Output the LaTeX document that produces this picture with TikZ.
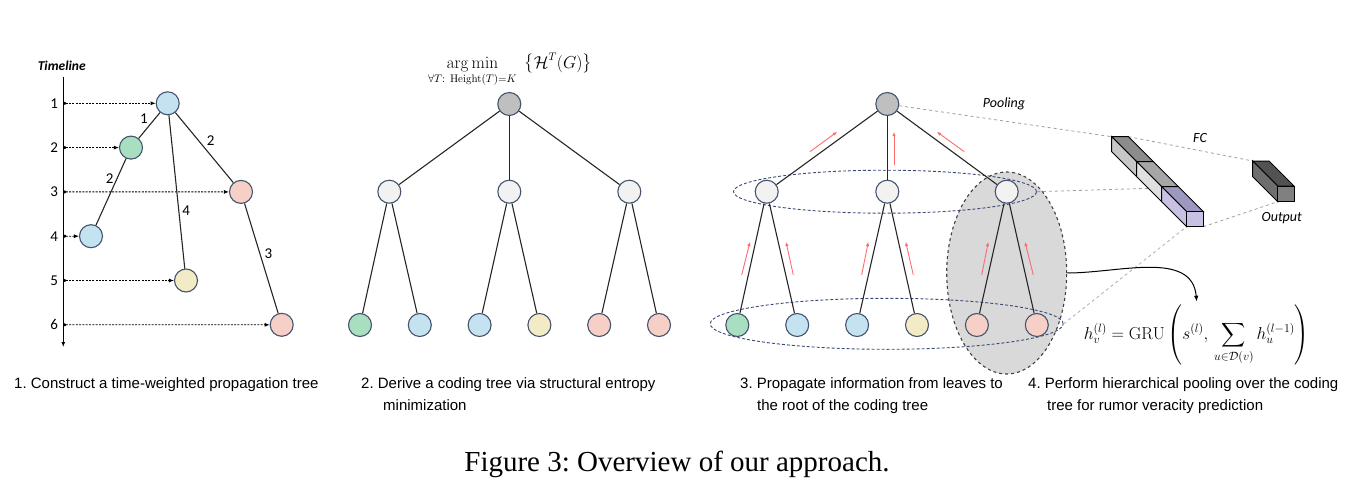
\documentclass[tikz,border=0pt]{standalone}
\usepackage{amsmath, amssymb}
\usepackage[no-math]{fontspec}
\newfontfamily\calfont{Carlito}
\newfontfamily\capfont{Liberation Sans}
\newfontfamily\figfont{Liberation Serif}
\usetikzlibrary{arrows.meta, calc, shapes.geometric}

\definecolor{nodeline}{HTML}{44546C}
\definecolor{cgreen}{HTML}{A8DFC0}
\definecolor{cblue}{HTML}{C5E2F1}
\definecolor{cyellow}{HTML}{F2EBC5}
\definecolor{cpink}{HTML}{F6CFC6}
\definecolor{croot}{HTML}{BFBFBF}
\definecolor{cmid}{HTML}{F2F2F2}
\definecolor{lvlblue}{HTML}{3A4A78}
\definecolor{flowred}{HTML}{FF6B6B}

\tikzset{
  vert/.style = {circle, draw = nodeline, line width = 1.1pt, minimum size = 23pt, inner sep = 0pt},
  edge/.style = {draw = black!85, line width = 1.1pt},
  timearrow/.style = {dash pattern = on 2pt off 1.3pt, line width = 0.85pt, {Circle[length = 3pt]}-{Latex[length = 5pt, width = 4pt]}},
  upflow/.style = {draw = flowred, line width = 0.9pt, -{Latex[length = 4.5pt, width = 3.5pt]}},
  pool/.style = {dashed, draw = gray!75, line width = 0.8pt},
  lvl/.style = {ellipse, draw = lvlblue, densely dashed, line width = 0.9pt, inner sep = 0pt},
  lbl/.style = {font = \calfont\fontsize{15}{17}\selectfont, inner sep = 1pt},
  tag/.style = {font = \calfont\itshape\fontsize{14}{16}\selectfont},
  captext/.style = {anchor = base west, font = \capfont\fontsize{15}{18}\selectfont\frenchspacing, inner sep = 0pt},
}

\begin{document}
\begin{tikzpicture}[x = 1pt, y = -1pt]
\useasboundingbox (0,0) rectangle (1360,487);

%% 1. propagation tree with timeline
\node[tag, font = \calfont\bfseries\itshape\fontsize{13.5}{15}\selectfont] (tl) at (61.7,65.7) {Timeline};
\coordinate (axtop) at (63.3,77);
\coordinate (axbot) at (63.3,347);
\draw[line width = 1.1pt, -{Latex[length = 5pt, width = 4pt]}] (axtop)--(axbot);
\foreach \i in {1,...,6}{
  \coordinate (t\i) at (63.3,{103.3+44.3*(\i-1)});
  \node[lbl] at (54.3,{103.3+44.3*(\i-1)}) {\i};
}
\node[vert, fill = cblue] (p1) at (167.7,103.3) {};
\node[vert, fill = cgreen] (p2) at (131,147.6) {};
\node[vert, fill = cpink] (p3) at (241,191.9) {};
\node[vert, fill = cblue] (p4) at (91,236.2) {};
\node[vert, fill = cyellow] (p5) at (186,280.5) {};
\node[vert, fill = cpink] (p6) at (281.7,324.8) {};
\foreach \i in {1,...,6}
  \draw[timearrow] (t\i)--(p\i);
\draw[edge] (p1)--(p2) node[lbl, midway, above left = 0pt] {1};
\draw[edge] (p1)--(p3) node[lbl, midway, above right = 1pt] {2};
\draw[edge] (p2)--(p4) node[lbl, pos = 0.3, left = 2pt] {2};
\draw[edge] (p1)--(p5) node[lbl, pos = 0.62, right = 2pt] {4};
\draw[edge] (p3)--(p6) node[lbl, pos = 0.46, right = 3pt] {3};

%% 2. coding tree
\node (obj) at (510,70) {\fontsize{16}{19}\selectfont
  $\displaystyle\operatorname*{arg\,min}_{\forall T:\ \mathrm{Height}(T)=K}\ \left\{\mathcal{H}^T(G)\right\}$};
\node[vert, fill = croot] (r2) at (509.3,104) {};
\foreach \x [count = \j] in {389.3, 509.3, 629.3}
  \node[vert, fill = cmid] (m2\j) at (\x,191.7) {};
\foreach \c [count = \i] in {cgreen, cblue, cblue, cyellow, cpink, cpink}
  \node[vert, fill = \c] (b2\i) at ({300.2+59.8*\i},325) {};
\foreach \j in {1,2,3}{
  \draw[edge] (r2)--(m2\j);
  \pgfmathtruncatemacro{\a}{2*\j-1}
  \pgfmathtruncatemacro{\b}{2*\j}
  \draw[edge] (m2\j)--(b2\a);
  \draw[edge] (m2\j)--(b2\b);
}

%% 3. message passing, 4. pooling
\node[ellipse, draw = black!75, dashed, line width = 1.1pt, fill = black!15,
  minimum width = 120pt, minimum height = 202pt, inner sep = 0pt] (grp) at (1006.7,273) {};
\node[lvl, minimum width = 303pt, minimum height = 43pt] (lvl1) at (885,191.7) {};
\node[lvl, minimum width = 353pt, minimum height = 51pt] (lvl0) at (886.7,323.8) {};
\node[vert, fill = croot] (r3) at (887.3,104) {};
\foreach \x [count = \j] in {766.7, 887.3, 1006.7}
  \node[vert, fill = cmid] (m3\j) at (\x,191.7) {};
\foreach \c [count = \i] in {cgreen, cblue, cblue, cyellow, cpink, cpink}
  \node[vert, fill = \c] (b3\i) at ({677.4+59.9*\i},325) {};
\foreach \j in {1,2,3}{
  \draw[edge] (r3)--(m3\j);
  \pgfmathtruncatemacro{\a}{2*\j-1}
  \pgfmathtruncatemacro{\b}{2*\j}
  \draw[edge] (m3\j)--(b3\a);
  \draw[edge] (m3\j)--(b3\b);
}
% flow towards the root
\draw[upflow] (810,151.7)--(837.3,131.7);
\draw[upflow] (894,165)--(894,131.7);
\draw[upflow] (964.3,151.7)--(936.7,131.7);
\draw[upflow] (741.7,275)--(750,241.7);
\draw[upflow] (793.3,275)--(786,241.7);
\draw[upflow] (861.7,275)--(868.3,241.7);
\draw[upflow] (913.3,275)--(905.7,241.7);
\draw[upflow] (981.7,275)--(988.3,241.7);
\draw[upflow] (1033.3,275)--(1025,241.7);
\node[tag] (pooltag) at (1004,104) {Pooling};

% FC layer
\coordinate (fcTL) at (1111.7,136.7);
\coordinate (fcTR) at (1128.4,136.7);
\coordinate (fcMid) at (1150,188.3);
\coordinate (fcBL) at (1186.7,226.7);
\coordinate (fcBR) at (1203.4,226.7);
\coordinate (outTL) at (1252.7,161);
\coordinate (outBL) at (1277.7,201.7);
\draw[pool] (r3)--(fcTL);
\draw[pool] (lvl1.east)--(fcMid);
\draw[pool, draw = lvlblue!45] (lvl0.east)--(fcBL);
\draw[pool] (fcTR)--(outTL);
\draw[pool] (fcBR)--(outBL);
\foreach \i/\topc/\sidec in {0/black!45/black!22, 1/black!35/black!12, 2/{rgb,255:red,157;green,152;blue,191}/{rgb,255:red,201;green,193;blue,227}}{
  \draw[line width = 1pt, fill = \topc] ($(fcTL)+(25*\i,25*\i)$)--++(16.7,0)--++(25,25)--++(-16.7,0)--cycle;
  \draw[line width = 1pt, fill = \sidec] ($(fcTL)+(25*\i,25*\i)$)--++(25,25)--++(0,15)--++(-25,-25)--cycle;
}
\draw[line width = 1pt, fill = {rgb,255:red,201;green,193;blue,227}] (fcBL)--++(0,-15)--++(16.7,0)--(fcBR)--cycle;
\node[tag] (fctag) at (1200,137.7) {FC};
% output
\draw[line width = 1pt, fill = black!68] (outTL)--++(16.3,0)--++(25,25)--++(-16.3,0)--cycle;
\draw[line width = 1pt, fill = black!57] (outTL)--++(25,25)--++(0,15.7)--++(-25,-25)--cycle;
\draw[line width = 1pt, fill = black!50] (outBL)--++(0,-15.7)--++(16.3,0)--++(0,15.7)--cycle;
\node[tag] (outtag) at (1281.7,218.3) {Output};

% GRU update
\node (gru) at (1196.7,335) {\fontsize{16.8}{20}\selectfont
  $\displaystyle h_v^{(l)}=\mathrm{GRU}\left(s^{(l)},\,\sum_{u\in\mathcal{D}(v)}h_u^{(l-1)}\right)$};
\draw[line width = 1pt, -{Latex[length = 6pt, width = 4.5pt]}] (grp.east) to[out = 0, in = 95] (1196.7,301.7);

%% captions
\node[captext] (c1) at (14,388) {1. Construct a time-weighted propagation tree};
\node[captext] (c2a) at (361,388) {2. Derive a coding tree via structural entropy};
\node[captext] (c2b) at (383,410) {minimization};
\node[captext] (c3a) at (740,388) {3. Propagate information from leaves to};
\node[captext] (c3b) at (757,410) {the root of the coding tree};
\node[captext] (c4a) at (1028,388) {4. Perform hierarchical pooling over the coding};
\node[captext] (c4b) at (1047,410) {tree for rumor veracity prediction};
\node[anchor = base, font = \figfont\fontsize{29}{33}\selectfont\frenchspacing, inner sep = 0pt] (figcap) at (677,471) {Figure 3: Overview of our approach.};
\end{tikzpicture}
\end{document}
